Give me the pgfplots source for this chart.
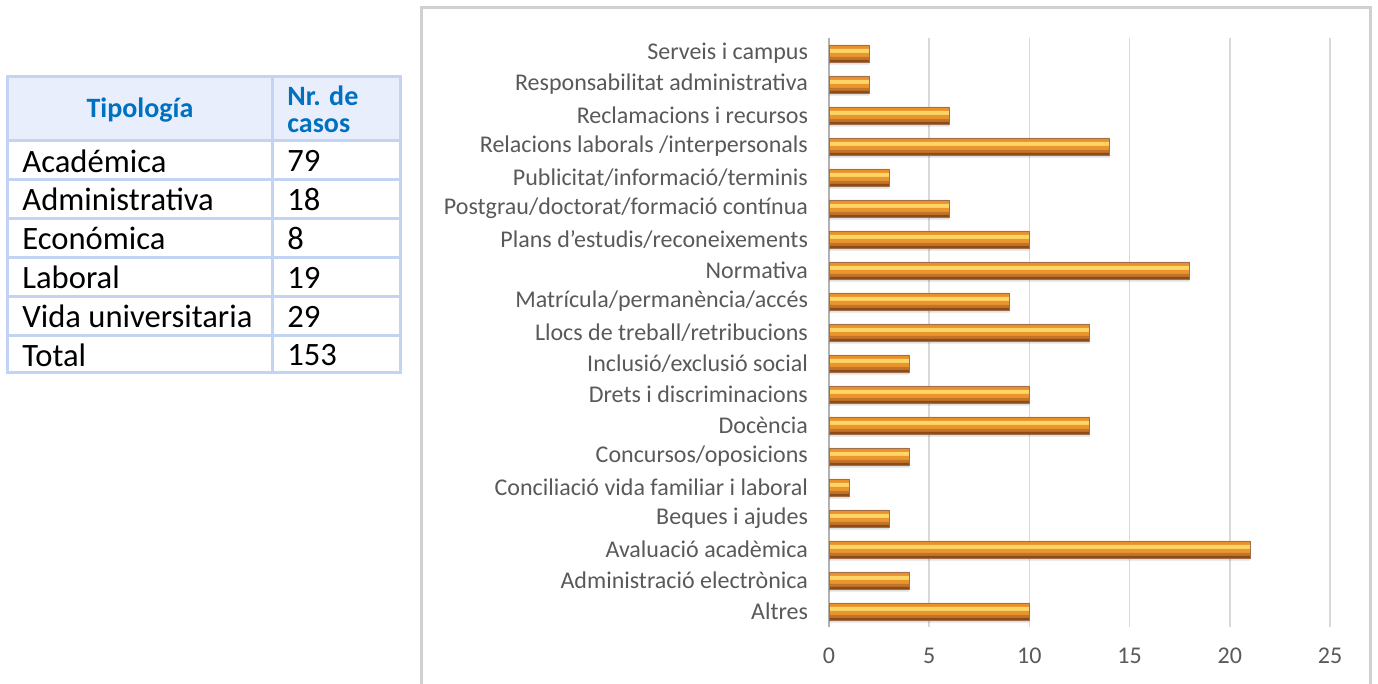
\documentclass[border=0pt]{standalone}
\usepackage{fontspec}
\setmainfont{Carlito}
\usepackage{pgfplots}
\usepackage{pgfplotstable}
\pgfplotsset{compat=1.18}

\definecolor{tblborder}{HTML}{C3D3F4}
\definecolor{hdrfill}{HTML}{E8EEFC}
\definecolor{hdrtext}{HTML}{0070C0}
\definecolor{labelgray}{HTML}{595959}
\definecolor{gridgray}{HTML}{D9D9D9}
\definecolor{framegray}{HTML}{D0D0D0}
\definecolor{barA}{HTML}{F2A445}
\definecolor{barB}{HTML}{E8912C}
\definecolor{barC}{HTML}{FFD566}
\definecolor{barD}{HTML}{EA962F}
\definecolor{barE}{HTML}{C47428}
\definecolor{barF}{HTML}{8B4B1A}

% value / category index (0 = Altres, bottom)
\pgfplotstableread{
v  c
10 0
4  1
21 2
3  3
1  4
4  5
13 6
10 7
4  8
13 9
9  10
18 11
10 12
6  13
3  14
14 15
6  16
2  17
2  18
}\casos

\begin{document}
\begin{tikzpicture}
\useasboundingbox (0,0) rectangle (689pt,342pt);

% chart frame
\draw[framegray, line width=1.5pt] (210.5pt,0) -- (210.5pt,338pt) -- (685pt,338pt) -- (685pt,0);

% table
\fill[hdrfill] (3.5pt,271.5pt) rectangle (200pt,303.5pt);
\foreach \y in {271.5,252,232.5,213,193.5,174}
  \draw[tblborder, line width=1.5pt] (3.5pt,\y pt) -- (200pt,\y pt);
\draw[tblborder, line width=1.5pt] (136pt,155.5pt) -- (136pt,303.5pt);
\draw[tblborder, line width=1.5pt] (3.5pt,155.5pt) rectangle (200pt,303.5pt);

\node[text=hdrtext, font=\fontsize{14}{16}\selectfont\bfseries] at (70pt,287pt) {Tipología};
\node[text=hdrtext, font=\fontsize{14}{16}\selectfont\bfseries, anchor=west, inner sep=0] at (143.5pt,294pt) {Nr. de};
\node[text=hdrtext, font=\fontsize{14}{16}\selectfont\bfseries, anchor=west, inner sep=0] at (143.5pt,279pt) {casos};

\foreach \t/\n/\y in {Académica/79/261.5, Administrativa/18/242.25, Económica/8/222.75,
    Laboral/19/203.25, Vida universitaria/29/183.75, Total/153/164.5} {
  \node[anchor=west, inner sep=0, font=\fontsize{16.3}{18}\selectfont] at (11pt,\y pt) {\t};
  \node[anchor=west, inner sep=0, font=\fontsize{16.3}{18}\selectfont] at (143.5pt,\y pt) {\n};
}

\begin{axis}[
    at={(414.5pt,28.5pt)}, anchor=south west,
    scale only axis, width=250.5pt, height=294.5pt,
    xbar,
    xmin=0, xmax=25, ymin=-0.5, ymax=18.5,
    xtick={0,5,...,25}, ytick={0,...,18},
    yticklabels={Altres, Administració electrònica, Avaluació acadèmica, Beques i ajudes,
      Conciliació vida familiar i laboral, Concursos/oposicions, Docència,
      Drets i discriminacions, Inclusió/exclusió social, Llocs de treball/retribucions,
      Matrícula/permanència/accés, Normativa, Plans d'estudis/reconeixements,
      Postgrau/doctorat/formació contínua, Publicitat/informació/terminis,
      Relacions laborals /interpersonals, Reclamacions i recursos,
      Responsabilitat administrativa, Serveis i campus},
    axis x line*=bottom, axis y line*=left,
    x axis line style={draw=none}, y axis line style={draw=gray!60, line width=0.75pt},
    major tick length=0pt,
    xmajorgrids, grid style={gridgray, line width=0.75pt},
    tick label style={text=labelgray, font=\fontsize{12}{14}\selectfont},
    /pgf/number format/assume math mode=true,
    yticklabel style={xshift=-7pt},
    xticklabel style={yshift=-7pt},
    every axis plot/.append style={draw=none},
  ]
  % soft shadow, then stacked bands for the bevelled look
  \addplot[fill=black, fill opacity=0.12, bar width=8.5pt, bar shift=-1.3pt] table[x=v, y=c] {\casos};
  \addplot[fill=barA, bar width=8.5pt, bar shift=0pt]     table[x=v, y=c] {\casos};
  \addplot[fill=barB, bar width=8pt,   bar shift=-0.25pt] table[x=v, y=c] {\casos};
  \addplot[fill=barC, bar width=6.5pt, bar shift=-1pt]    table[x=v, y=c] {\casos};
  \addplot[fill=barD, bar width=4.5pt, bar shift=-2pt]    table[x=v, y=c] {\casos};
  \addplot[fill=barE, bar width=2.5pt, bar shift=-3pt]    table[x=v, y=c] {\casos};
  \addplot[fill=barF, bar width=1pt,   bar shift=-3.75pt] table[x=v, y=c] {\casos};
  \addplot[draw=barF!80, line width=0.3pt, fill=none, bar width=8.5pt, bar shift=0pt] table[x=v, y=c] {\casos};
\end{axis}
\end{tikzpicture}
\end{document}
